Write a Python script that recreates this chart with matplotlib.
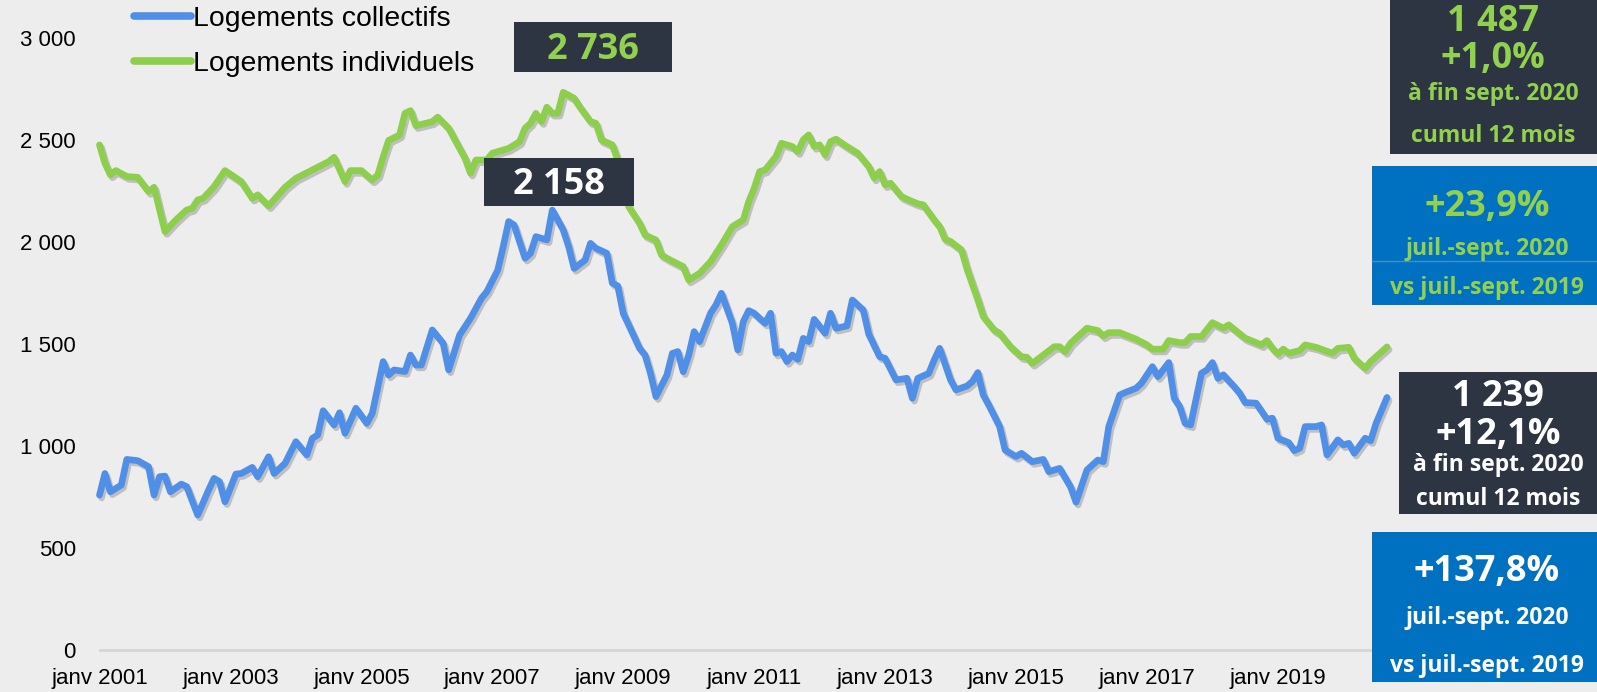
import matplotlib
matplotlib.use("Agg")
import matplotlib.pyplot as plt
import matplotlib.patheffects as pe
from matplotlib.patches import Rectangle

# ---------------- data (months since janv 2001) ----------------
coll_months = [0, 1, 2, 4, 5, 7, 9, 10, 11, 12, 13, 15, 16, 18, 20, 21, 22, 23, 25, 26, 28, 29, 31, 32,
               34, 36, 38, 39, 40, 41, 43, 44, 45, 47, 49, 50, 52, 53, 54, 56, 57, 58, 59, 61, 63, 64,
               66, 68, 70, 71, 73, 74, 75, 76, 78, 79, 80, 82, 83, 85, 86, 87, 89, 90, 91, 93, 94, 95,
               96, 98, 99, 100, 101, 102, 104, 105, 106, 107, 108, 109, 110, 112, 113, 114, 116, 117,
               118, 119, 120, 122, 123, 124, 125, 126, 127, 128, 129, 130, 131, 133, 134, 135, 137,
               138, 140, 141, 143, 144, 146, 148, 149, 150, 152, 153, 154, 156, 157, 159, 160, 161,
               162, 163, 165, 166, 168, 169, 171, 173, 174, 176, 178, 179, 181, 183, 184, 185, 187,
               188, 190, 191, 193, 194, 196, 197, 198, 199, 200, 202, 203, 204, 205, 206, 208, 209,
               210, 212, 214, 215, 216, 218, 219, 220, 221, 223, 224, 225, 227, 228, 229, 230, 232,
               233, 234, 236]
coll_values = [760, 866, 776, 809, 935, 929, 899, 760, 850, 853, 776, 814, 801, 662, 785, 842, 826, 727,
               863, 866, 896, 850, 948, 866, 915, 1022, 957, 1038, 1055, 1174, 1104, 1164, 1063, 1186,
               1112, 1161, 1415, 1349, 1374, 1366, 1447, 1398, 1398, 1570, 1504, 1374, 1545, 1627,
               1725, 1758, 1864, 1979, 2102, 2085, 1922, 1946, 2028, 2012, 2158, 2061, 1979, 1872,
               1913, 1995, 1971, 1946, 1800, 1786, 1652, 1537, 1480, 1447, 1357, 1243, 1349, 1455,
               1464, 1365, 1447, 1562, 1513, 1652, 1693, 1750, 1603, 1472, 1610, 1665, 1652, 1603,
               1652, 1456, 1464, 1415, 1447, 1426, 1529, 1513, 1622, 1554, 1652, 1578, 1590, 1717,
               1668, 1550, 1439, 1431, 1325, 1333, 1235, 1333, 1357, 1423, 1480, 1325, 1276, 1295,
               1317, 1361, 1251, 1202, 1096, 981, 949, 965, 924, 935, 875, 891, 800, 725, 883, 932,
               924, 1096, 1251, 1263, 1284, 1309, 1390, 1341, 1410, 1235, 1194, 1112, 1104, 1358,
               1374, 1410, 1333, 1350, 1292, 1260, 1214, 1211, 1132, 1137, 1039, 1017, 978, 990,
               1096, 1096, 1104, 957, 1031, 1006, 1014, 965, 1039, 1027, 1112, 1239]

indiv_months = [0, 1, 2, 3, 5, 7, 9, 10, 12, 14, 16, 17, 18, 19, 21, 23, 26, 28, 29, 31, 34, 36, 39, 42,
                43, 45, 46, 48, 50, 51, 52, 53, 55, 56, 57, 58, 61, 62, 64, 66, 67, 68, 69, 71, 72, 75,
                77, 78, 79, 80, 81, 82, 83, 84, 85, 87, 88, 90, 91, 92, 94, 95, 97, 99, 100, 102, 103,
                104, 106, 107, 108, 110, 112, 114, 116, 118, 119, 120, 121, 122, 124, 125, 127, 128,
                129, 130, 131, 132, 133, 134, 135, 137, 139, 141, 142, 143, 144, 145, 147, 148, 150,
                151, 153, 154, 155, 156, 158, 159, 161, 162, 164, 165, 167, 169, 170, 171, 173, 175,
                176, 177, 178, 179, 181, 183, 184, 185, 187, 190, 192, 193, 195, 196, 198, 199, 200,
                202, 204, 206, 207, 210, 213, 214, 215, 216, 217, 218, 220, 221, 223, 226, 227, 229,
                230, 232, 233, 236]
indiv_values = [2478, 2388, 2331, 2352, 2323, 2319, 2249, 2270, 2053, 2110, 2159, 2167, 2208, 2216, 2273,
                2352, 2298, 2216, 2233, 2179, 2270, 2314, 2355, 2396, 2417, 2298, 2352, 2352, 2306,
                2330, 2420, 2500, 2527, 2633, 2646, 2572, 2592, 2614, 2560, 2461, 2412, 2339, 2404,
                2404, 2437, 2461, 2494, 2560, 2584, 2633, 2592, 2663, 2633, 2633, 2736, 2707, 2666,
                2592, 2584, 2502, 2478, 2404, 2175, 2093, 2036, 2011, 1938, 1922, 1894, 1881, 1815,
                1848, 1905, 1987, 2077, 2110, 2200, 2265, 2347, 2355, 2421, 2486, 2470, 2445, 2503,
                2527, 2470, 2478, 2429, 2494, 2506, 2470, 2437, 2372, 2315, 2347, 2282, 2290, 2225,
                2212, 2189, 2184, 2110, 2077, 2015, 2004, 1963, 1870, 1717, 1636, 1570, 1554, 1488,
                1439, 1436, 1406, 1447, 1488, 1488, 1464, 1505, 1530, 1579, 1567, 1541, 1557, 1557,
                1525, 1497, 1476, 1476, 1518, 1508, 1508, 1538, 1538, 1606, 1579, 1595, 1530, 1497,
                1518, 1480, 1453, 1476, 1456, 1469, 1497, 1485, 1456, 1480, 1485, 1431, 1382, 1415,
                1487]

series_names = ["Logements collectifs", "Logements individuels"]
xtick_months = [0, 24, 48, 72, 96, 120, 144, 168, 192, 216]
xtick_labels = ["janv 2001", "janv 2003", "janv 2005", "janv 2007", "janv 2009",
                "janv 2011", "janv 2013", "janv 2015", "janv 2017", "janv 2019"]
ytick_values = [0, 500, 1000, 1500, 2000, 2500, 3000]
ytick_labels = ["0", "500", "1 000", "1 500", "2 000", "2 500", "3 000"]

peak_indiv_label = "2 736"
peak_coll_label = "2 158"
indiv_box = ["1 487", "+1,0%", "à fin sept. 2020", "cumul 12 mois"]
indiv_q = ["+23,9%", "juil.-sept. 2020", "vs juil.-sept. 2019"]
coll_box = ["1 239", "+12,1%", "à fin sept. 2020", "cumul 12 mois"]
coll_q = ["+137,8%", "juil.-sept. 2020", "vs juil.-sept. 2019"]

# ---------------- styling ----------------
W, H = 1597, 692
BG = "#EDEDED"
DARK = "#2C3541"
BLUEBOX = "#0070C0"
GREEN_TXT = "#92D050"
BLUE_LINE = "#4F8FE8"
GREEN_LINE = "#8DCF4C"

plt.rcParams["font.family"] = ["Liberation Sans", "DejaVu Sans"]

fig = plt.figure(figsize=(W / 100, H / 100), dpi=100, facecolor=BG)


def fx(x):
    return x / W


def fy(y):
    return 1 - y / H


x0, x1 = 99.5, 1387
y0, y3000 = 650, 38.5
ax = fig.add_axes([fx(x0), fy(y0), (x1 - x0) / W, (y0 - y3000) / H])
ax.set_facecolor(BG)
ax.set_xlim(0, 236)
ax.set_ylim(0, 3000)
for s in ax.spines.values():
    s.set_visible(False)
ax.axhline(0, color="#D6D6D6", lw=2, zorder=1, clip_on=False)

shadow = [pe.SimpleLineShadow(offset=(1.5, -2), shadow_color="#555555", alpha=0.3),
          pe.Normal()]
l1, = ax.plot(coll_months, coll_values, color=BLUE_LINE, lw=4.8, solid_joinstyle="round",
              solid_capstyle="round", label=series_names[0], zorder=3, clip_on=False,
              path_effects=shadow)
l2, = ax.plot(indiv_months, indiv_values, color=GREEN_LINE, lw=4.8, solid_joinstyle="round",
              solid_capstyle="round", label=series_names[1], zorder=3, clip_on=False,
              path_effects=shadow)

ax.set_xticks(xtick_months)
ax.set_xticklabels(xtick_labels)
ax.set_yticks(ytick_values)
ax.set_yticklabels(ytick_labels)
ax.tick_params(axis="both", length=0, labelsize=16, colors="black")
ax.tick_params(axis="x", pad=13)
ax.tick_params(axis="y", pad=17)

leg = fig.legend(handles=[l1, l2], loc="upper left",
                 bbox_to_anchor=(fx(131), fy(3)), frameon=False, fontsize=20.4,
                 handlelength=2.0, handletextpad=0.1, labelspacing=0.66,
                 borderaxespad=0, borderpad=0.1)
for h in leg.legend_handles:
    h.set_path_effects([])
    h.set_linewidth(5.5)

BOLD = dict(family=["Open Sans", "DejaVu Sans"], weight="bold", ha="center", va="center")


def box(xa, ya, xb, yb, color):
    fig.add_artist(Rectangle((fx(xa), fy(yb)), (xb - xa) / W, (yb - ya) / H,
                             transform=fig.transFigure, facecolor=color,
                             edgecolor="none", zorder=5))


def txt(x, y, s, size, color):
    fig.text(fx(x), fy(y), s, color=color, fontsize=size, zorder=6, **BOLD)


BIG, SMALL = 26, 16.5

# peak labels
box(514, 22, 672, 72, DARK)
txt(593, 50, peak_indiv_label, BIG, GREEN_TXT)
box(484, 158, 634, 206, DARK)
txt(559, 185, peak_coll_label, BIG, "white")

# right-hand summary boxes
box(1390, 0, W, 154, DARK)
for s, y, size in zip(indiv_box, [22, 59, 94, 136], [BIG, BIG, SMALL, SMALL]):
    txt(1493, y, s, size, GREEN_TXT)

box(1372, 166, W, 305, BLUEBOX)
fig.add_artist(plt.Line2D([fx(1372), 1], [fy(261), fy(261)], color="#3A8FD0", lw=1,
                          transform=fig.transFigure, zorder=5.5))
for s, y, size in zip(indiv_q, [207, 249, 288], [BIG, SMALL, SMALL]):
    txt(1487, y, s, size, GREEN_TXT)

box(1399, 372, W, 514, DARK)
for s, y, size in zip(coll_box, [397, 435, 465, 499], [BIG, BIG, SMALL, SMALL]):
    txt(1498, y, s, size, "white")

box(1372, 532, W, 682, BLUEBOX)
for s, y, size in zip(coll_q, [572, 618, 666], [BIG, SMALL, SMALL]):
    txt(1487, y, s, size, "white")

fig.savefig("out.png", dpi=100, facecolor=BG)
